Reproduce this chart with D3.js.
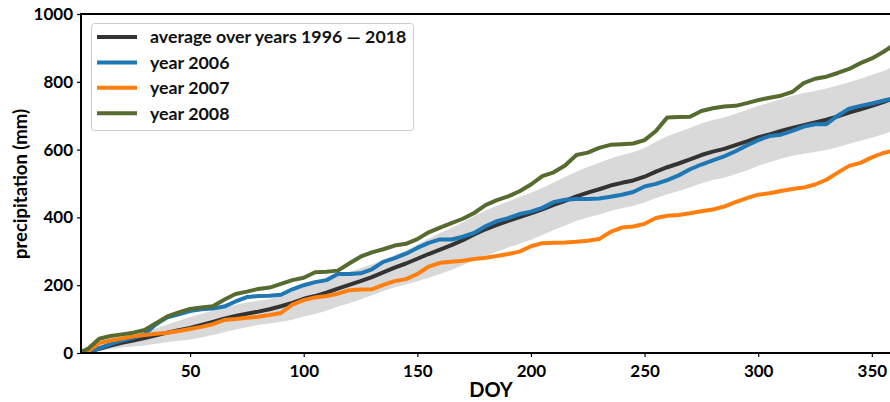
<!DOCTYPE html>
<html>
<head>
<meta charset="utf-8">
<script src="https://cdn.jsdelivr.net/npm/d3@7"></script>
<style>
  html, body { margin: 0; padding: 0; background: #fff; }
  svg { display: block; font-family: Lato, "Noto Sans", sans-serif; font-weight: 700; }
</style>
</head>
<body>
<svg id="chart" width="890" height="402"></svg>
<script>
const doy = [1,5,10,15,20,25,30,35,40,45,50,55,60,65,70,75,80,85,90,95,100,105,110,115,120,125,130,135,140,145,150,155,160,165,170,175,180,185,190,195,200,205,210,215,220,225,230,235,240,245,250,255,260,265,270,275,280,285,290,295,300,305,310,315,320,325,330,335,340,345,350,355,360];

const average = [0,3,12,22,30,37,44,52,60,67,74,83,92,101,109,116,122,129,138,148,160,168,178,190,201,212,224,238,252,264,278,292,305,318,333,350,365,378,390,401,412,424,437,449,462,473,483,494,502,509,520,535,548,559,571,584,594,602,613,624,636,645,655,664,672,680,688,698,709,719,729,740,752];

const bandLower = [0,1,6,12,16,19,22,27,32,36,40,46,53,61,69,76,83,87,92,98,108,115,125,137,147,158,170,183,194,202,212,222,233,245,259,274,287,299,311,322,334,348,363,376,390,400,408,419,427,434,444,457,468,478,489,501,510,517,527,538,552,563,573,582,588,593,599,607,617,626,635,645,656];

const bandUpper = [0,5,18,32,44,52,60,72,84,95,106,116,125,134,142,149,154,159,168,181,197,208,220,230,239,250,261,274,288,302,320,338,354,369,386,404,420,434,447,460,473,487,503,519,535,549,561,574,584,592,605,623,640,652,664,677,687,695,706,717,729,738,749,759,767,773,780,789,799,809,820,832,845];

const year2006 = [0,2,14,26,37,45,55,85,105,114,124,129,131,137,152,165,168,169,172,188,200,209,215,233,233,235,247,269,280,293,310,325,335,335,343,354,374,389,398,410,417,428,445,452,454,454,456,461,467,475,491,499,510,524,542,556,568,580,595,612,628,640,644,655,668,675,675,700,721,729,736,744,752];

const year2007 = [0,5,29,37,43,49,53,57,60,65,71,77,85,97,100,104,107,112,118,143,156,164,168,175,185,187,188,201,212,218,233,255,266,269,272,277,281,286,292,299,315,324,325,326,328,331,336,357,370,373,381,398,405,407,412,418,423,432,445,457,467,471,478,484,488,497,511,532,552,561,577,590,597];

const year2008 = [0,12,42,50,55,60,68,88,108,120,130,134,138,157,174,181,189,193,204,215,222,238,240,243,264,284,297,306,317,322,336,356,370,383,396,413,436,451,462,477,497,522,533,553,584,591,605,614,616,618,628,655,695,696,697,714,722,727,729,737,746,753,759,770,796,809,815,826,838,855,869,888,910];

const xTicks = [50,100,150,200,250,300,350];
const yTicks = [0,200,400,600,800,1000];

const seriesNames = ["average over years 1996 — 2018","year 2006","year 2007","year 2008"];
const seriesColors = ["#333333","#1f77b4","#ff7f0e","#556b2f"];
const seriesData = [average, year2006, year2007, year2008];

(function () {
const svg = d3.select("#chart");
const pLeft = 81, pRight = 890, pTop = 14, pBottom = 353;

const x = d3.scaleLinear().domain([2, 358]).range([pLeft, pRight]);
const y = d3.scaleLinear().domain([0, 1000]).range([pBottom, pTop]);

svg.append("defs").append("clipPath").attr("id","clip")
  .append("rect").attr("x", pLeft).attr("y", pTop).attr("width", pRight - pLeft + 20).attr("height", pBottom - pTop);

const plot = svg.append("g").attr("clip-path","url(#clip)");

const area = d3.area()
  .x((d,i) => x(doy[i]))
  .y0((d,i) => y(bandLower[i]))
  .y1((d,i) => y(bandUpper[i]));
plot.append("path").datum(doy).attr("d", area).attr("fill", "#d9d9d9").attr("stroke","none");

const line = d3.line().x((d,i) => x(doy[i])).y(d => y(d));
seriesData.forEach((s, k) => {
  plot.append("path").datum(s).attr("d", line)
    .attr("fill","none").attr("stroke", seriesColors[k])
    .attr("stroke-width", 4).attr("stroke-linejoin","round").attr("stroke-linecap","butt");
});

const xAxis = svg.append("g").attr("transform", `translate(0,${pBottom})`)
  .call(d3.axisBottom(x).tickValues(xTicks).tickFormat(d3.format("d")).tickSize(4).tickPadding(6));
const yAxis = svg.append("g").attr("transform", `translate(${pLeft},0)`)
  .call(d3.axisLeft(y).tickValues(yTicks).tickFormat(d3.format("d")).tickSize(4).tickPadding(4));
[xAxis, yAxis].forEach(a => {
  a.select(".domain").remove();
  a.selectAll(".tick line").attr("stroke","#000").attr("stroke-width",1.2);
  a.selectAll(".tick text").attr("fill","#000").style("font-size","17px")
    .style("font-family","Lato, sans-serif").style("font-weight","700");
});
xAxis.selectAll(".tick text").attr("dy","0.85em");

svg.append("line").attr("x1",pLeft).attr("x2",pLeft).attr("y1",pTop).attr("y2",pBottom)
  .attr("stroke","#000").attr("stroke-width",2);
svg.append("line").attr("x1",pLeft-1).attr("x2",pRight).attr("y1",pBottom).attr("y2",pBottom)
  .attr("stroke","#000").attr("stroke-width",2);
svg.append("line").attr("x1",pLeft-1).attr("x2",pRight).attr("y1",pTop).attr("y2",pTop)
  .attr("stroke","#000").attr("stroke-width",2);

svg.append("text").attr("x", 491).attr("y", 397).attr("text-anchor","middle")
  .style("font-size","20px").text("DOY");
svg.append("text").attr("transform","translate(27,184) rotate(-90)").attr("text-anchor","middle")
  .style("font-size","18.5px").text("precipitation (mm)");

const lg = svg.append("g");
lg.append("rect").attr("x",91.5).attr("y",23.5).attr("width",322).attr("height",107).attr("rx",3)
  .attr("fill","#fff").attr("fill-opacity",0.85).attr("stroke","#cccccc").attr("stroke-width",1);
seriesNames.forEach((name,k) => {
  const yy = 37 + k*25.4;
  lg.append("line").attr("x1",97).attr("x2",137).attr("y1",yy).attr("y2",yy)
    .attr("stroke",seriesColors[k]).attr("stroke-width",4);
  lg.append("text").attr("x",150).attr("y",yy).attr("dy","0.36em")
    .style("font-size","17.8px").attr("fill","#111").text(name);
});
})();
</script>
</body>
</html>
